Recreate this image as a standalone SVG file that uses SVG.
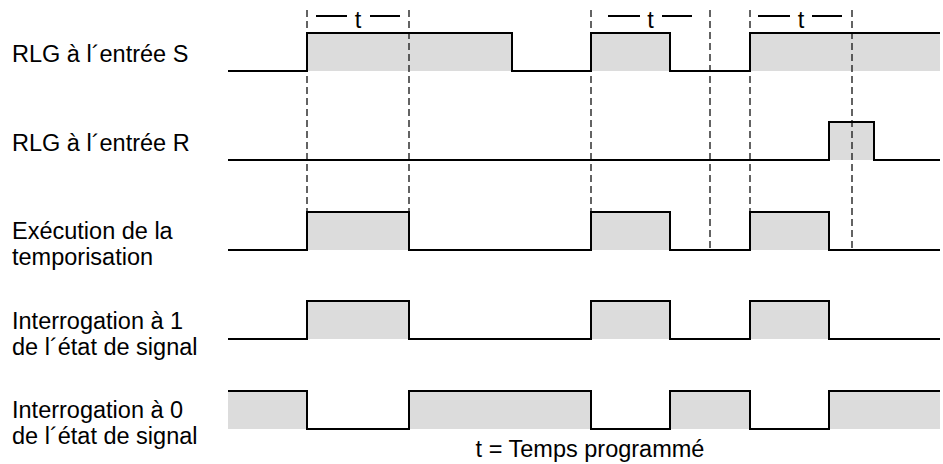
<svg xmlns="http://www.w3.org/2000/svg" width="943" height="464" viewBox="0 0 943 464">
<style>
.lbl{font-family:"Liberation Sans",Arial,sans-serif;font-size:23.5px;fill:#000}
.sig{fill:none;stroke:#000;stroke-width:2;stroke-linejoin:miter}
.fill{fill:#dcdcdc;stroke:none}
.dash{stroke:#222;stroke-width:1.4;stroke-dasharray:7,4;fill:none}
.tl{stroke:#000;stroke-width:2}
</style>
<rect width="943" height="464" fill="#fff"/>
<g id="fills">
<rect class="fill" x="307" y="33" width="205" height="38"/>
<rect class="fill" x="591" y="33" width="79" height="38"/>
<rect class="fill" x="750" y="33" width="190" height="38"/>
<rect class="fill" x="829" y="122" width="45" height="38"/>
<rect class="fill" x="307" y="212" width="102" height="38"/>
<rect class="fill" x="591" y="212" width="79" height="38"/>
<rect class="fill" x="750" y="212" width="79" height="38"/>
<rect class="fill" x="307" y="301" width="102" height="38"/>
<rect class="fill" x="591" y="301" width="79" height="38"/>
<rect class="fill" x="750" y="301" width="79" height="38"/>
<rect class="fill" x="228" y="391" width="79" height="38"/>
<rect class="fill" x="409" y="391" width="182" height="38"/>
<rect class="fill" x="670" y="391" width="80" height="38"/>
<rect class="fill" x="829" y="391" width="111" height="38"/>
</g>
<g id="connectors">
<line class="dash" x1="307" y1="10" x2="307" y2="250"/>
<line class="dash" x1="409" y1="10" x2="409" y2="250"/>
<line class="dash" x1="591" y1="10" x2="591" y2="250"/>
<line class="dash" x1="710" y1="10" x2="710" y2="250"/>
<line class="dash" x1="750" y1="10" x2="750" y2="250"/>
<line class="dash" x1="852" y1="10" x2="852" y2="250"/>
</g>
<g id="t1">
<line class="tl" x1="316" y1="16" x2="347" y2="16"/>
<text class="lbl" x="358" y="28" text-anchor="middle">t</text>
<line class="tl" x1="370" y1="16" x2="400" y2="16"/>
</g>
<g id="t2">
<line class="tl" x1="608" y1="16" x2="640" y2="16"/>
<text class="lbl" x="650.5" y="28" text-anchor="middle">t</text>
<line class="tl" x1="662" y1="16" x2="692" y2="16"/>
</g>
<g id="t3">
<line class="tl" x1="758" y1="16" x2="790" y2="16"/>
<text class="lbl" x="801" y="28" text-anchor="middle">t</text>
<line class="tl" x1="812" y1="16" x2="842" y2="16"/>
</g>
<g id="rowS">
<text class="lbl" x="12" y="62">RLG à l´entrée S</text>
<polyline class="sig" points="228,71 307,71 307,33 512,33 512,71 591,71 591,33 670,33 670,71 750,71 750,33 940,33"/>
</g>
<g id="rowR">
<text class="lbl" x="12" y="151">RLG à l´entrée R</text>
<polyline class="sig" points="228,160 829,160 829,122 874,122 874,160 940,160"/>
</g>
<g id="rowExec">
<text class="lbl" x="12" y="239">Exécution de la</text>
<text class="lbl" x="12" y="265">temporisation</text>
<polyline class="sig" points="228,250 307,250 307,212 409,212 409,250 591,250 591,212 670,212 670,250 750,250 750,212 829,212 829,250 940,250"/>
</g>
<g id="rowQ1">
<text class="lbl" x="12" y="329">Interrogation à 1</text>
<text class="lbl" x="12" y="355">de l´état de signal</text>
<polyline class="sig" points="228,339 307,339 307,301 409,301 409,339 591,339 591,301 670,301 670,339 750,339 750,301 829,301 829,339 940,339"/>
</g>
<g id="rowQ0">
<text class="lbl" x="12" y="418">Interrogation à 0</text>
<text class="lbl" x="12" y="444">de l´état de signal</text>
<polyline class="sig" points="228,391 307,391 307,429 409,429 409,391 591,391 591,429 670,429 670,391 750,391 750,429 829,429 829,391 940,391"/>
</g>
<g id="legend">
<text class="lbl" x="590" y="457" text-anchor="middle">t = Temps programmé</text>
</g>
</svg>
